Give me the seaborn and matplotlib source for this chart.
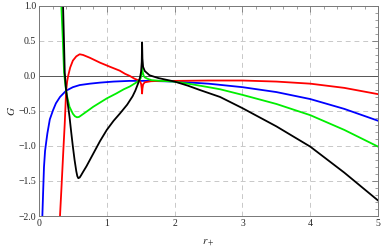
import matplotlib
matplotlib.use("Agg")
import matplotlib.pyplot as plt
import seaborn as sns
import pandas as pd
from matplotlib.ticker import MultipleLocator, FuncFormatter

# values
blue_x = [0.05, 0.06, 0.074, 0.09, 0.11, 0.124, 0.16, 0.207, 0.25, 0.31, 0.40, 0.50, 0.60, 0.75, 0.90,
          1.1, 1.34, 1.6, 2.0, 2.5, 3.0, 3.5, 4.0, 4.5, 5.0]
blue_y = [-2.0, -1.70, -1.30, -1.07, -0.92, -0.82, -0.62, -0.49, -0.39, -0.30, -0.21, -0.16, -0.13, -0.11, -0.095,
          -0.08, -0.07, -0.07, -0.08, -0.11, -0.16, -0.23, -0.33, -0.47, -0.64]

red_x = [0.31, 0.33, 0.36, 0.38, 0.40, 0.415, 0.43, 0.46, 0.50, 0.55, 0.60, 0.65, 0.75, 0.90, 1.05, 1.19,
         1.27, 1.34, 1.41, 1.46, 1.49, 1.505, 1.515, 1.52, 1.525, 1.535, 1.56, 1.65, 1.8, 2.0, 2.5, 3.0,
         3.5, 4.0, 4.5, 5.0]
red_y = [-2.0, -1.63, -1.05, -0.68, -0.22, -0.08, 0.0, 0.12, 0.22, 0.28, 0.31, 0.30, 0.26, 0.19, 0.13, 0.076,
         0.03, 0.0, -0.04, -0.06, -0.08, -0.11, -0.18, -0.25, -0.18, -0.12, -0.09, -0.075, -0.07, -0.07, -0.065, -0.065,
         -0.08, -0.11, -0.17, -0.26]

green_x = [0.33, 0.35, 0.37, 0.39, 0.41, 0.45, 0.50, 0.53, 0.56, 0.59, 0.62, 0.70, 0.80, 0.90, 1.0, 1.14, 1.25, 1.34,
           1.44, 1.48, 1.50, 1.51, 1.52, 1.53, 1.545, 1.56, 1.60, 1.66, 1.8, 1.98, 2.2, 2.5, 2.67, 3.0,
           3.5, 4.0, 4.5, 5.0]
green_y = [1.0, 0.55, 0.05, -0.14, -0.27, -0.44, -0.54, -0.575, -0.59, -0.585, -0.565, -0.51, -0.44, -0.38, -0.32, -0.25, -0.19, -0.15,
           -0.09, -0.06, -0.03, 0.02, 0.11, 0.05, 0.0, -0.02, -0.04, -0.06, -0.07, -0.08, -0.11, -0.16, -0.19, -0.27,
           -0.40, -0.56, -0.77, -1.01]

black_x = [0.355, 0.37, 0.38, 0.40, 0.425, 0.45, 0.475, 0.50, 0.525, 0.55, 0.565, 0.58, 0.60, 0.62, 0.65, 0.70, 0.75,
           0.80, 0.90, 1.0, 1.1, 1.19, 1.30, 1.38, 1.42, 1.46, 1.49, 1.505, 1.515, 1.52, 1.525, 1.535, 1.56, 1.63,
           1.76, 2.0, 2.2, 2.37, 2.67, 3.0, 3.5, 4.0, 4.5, 5.0]
black_y = [1.0, 0.45, 0.05, -0.2, -0.40, -0.58, -0.80, -1.01, -1.20, -1.36, -1.43, -1.46, -1.45, -1.42, -1.37, -1.29, -1.20,
           -1.11, -0.93, -0.77, -0.64, -0.54, -0.41, -0.29, -0.21, -0.11, -0.02, 0.06, 0.20, 0.48, 0.25, 0.13, 0.07, 0.01,
           -0.03, -0.08, -0.14, -0.20, -0.30, -0.46, -0.72, -1.01, -1.38, -1.78]

curves = [(blue_x, blue_y, "#0000ff"), (red_x, red_y, "#ff0000"),
          (green_x, green_y, "#00ee00"), (black_x, black_y, "#000000")]

sns.set_style("white")
plt.rcParams['font.family'] = ['Liberation Serif', 'DejaVu Serif']
plt.rcParams['mathtext.fontset'] = 'stix'

fig = plt.figure(figsize=(3.82, 2.48), dpi=100)
ax = fig.add_axes([0.102, 0.129, 0.888, 0.847])

for v in [1, 2, 3, 4]:
    ax.axvline(v, color="#c8c8c8", lw=0.7, ls=(0, (5, 4)), zorder=0)
for v in [0.5, -0.5, -1.0, -1.5]:
    ax.axhline(v, color="#c8c8c8", lw=0.7, ls=(0, (5, 4)), zorder=0)
ax.axhline(0, color="#555555", lw=0.7, zorder=1)

for xs, ys, c in curves:
    df = pd.DataFrame({"x": xs, "y": ys})
    sns.lineplot(data=df, x="x", y="y", ax=ax, color=c, lw=1.3, sort=False, estimator=None)

ax.set_xlim(0, 5)
ax.set_ylim(-2.0, 1.0)
ax.xaxis.set_major_locator(MultipleLocator(1))
ax.xaxis.set_minor_locator(MultipleLocator(0.2))
ax.yaxis.set_major_locator(MultipleLocator(0.5))
ax.yaxis.set_minor_locator(MultipleLocator(0.1))
ax.yaxis.set_major_formatter(FuncFormatter(lambda v, p: f"{v:.1f}".replace("-", "\u2212")))
ax.tick_params(which="both", direction="in", top=True, right=True, color="#777777", labelsize=7, pad=2)
ax.tick_params(which="major", length=4, width=0.6)
ax.tick_params(which="minor", length=2, width=0.5)
for s in ax.spines.values():
    s.set_color("#777777")
    s.set_linewidth(0.7)

ax.set_xlabel(r"$r_+$", fontsize=8, labelpad=7)
ax.set_ylabel(r"$G$", fontsize=8, labelpad=1)

fig.savefig("out.png", dpi=100)
